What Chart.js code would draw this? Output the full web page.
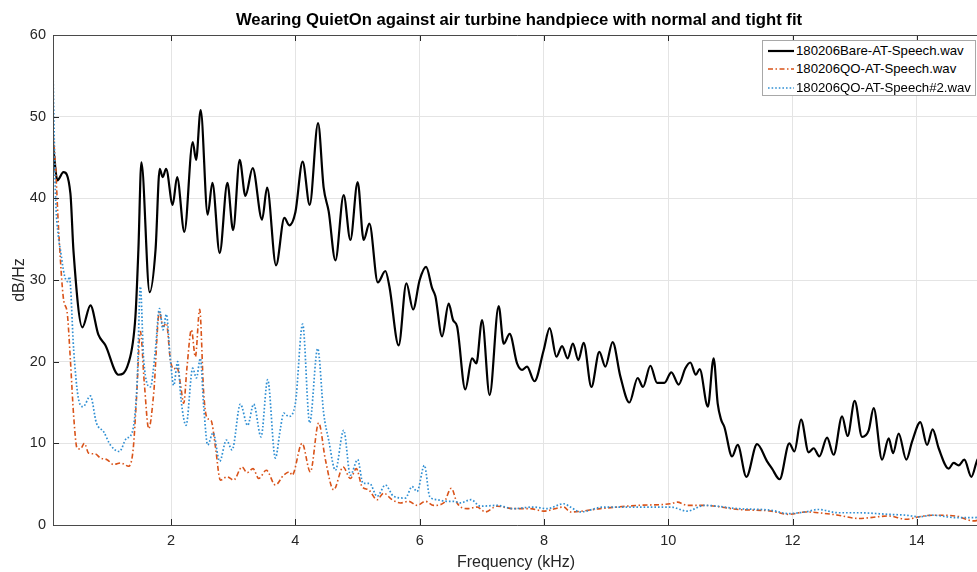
<!DOCTYPE html>
<html><head><meta charset="utf-8">
<script src="https://cdn.jsdelivr.net/npm/chart.js@4.4.1/dist/chart.umd.min.js"></script>
<style>
html,body{margin:0;padding:0;overflow:hidden;background:#fff;width:977px;height:572px;}
#wrap{position:relative;width:980px;height:572px;}
#legend{position:absolute;left:762px;top:40px;width:214px;height:56px;border:1px solid #a8a8a8;background:#fff;font:13.2px 'Liberation Sans',Arial,sans-serif;color:#000;box-sizing:border-box;}
.row{position:absolute;left:0;height:18px;line-height:18px;white-space:nowrap;}
.row svg{position:absolute;left:5px;top:7px;}
.row span{position:absolute;left:33px;top:0;}
</style></head>
<body>
<div id="wrap"><canvas id="c" width="980" height="572"></canvas><div id="legend"></div></div>
<script>
const titleText='Wearing QuietOn against air turbine handpiece with normal and tight fit';
const xLabel='Frequency (kHz)';
const yLabel='dB/Hz';
const xTicks=[2,4,6,8,10,12,14];
const yTicks=[0,10,20,30,40,50,60];
const seriesNames=['180206Bare-AT-Speech.wav','180206QO-AT-Speech.wav','180206QO-AT-Speech#2.wav'];

const bareF=[0.106,0.171,0.268,0.38,0.43,0.573,0.702,0.83,0.943,1.152,
1.313,1.426,1.474,1.522,1.655,1.75,1.817,1.865,1.92,2.026,
2.097,2.214,2.348,2.402,2.476,2.589,2.665,2.782,2.906,2.998,
3.104,3.196,3.313,3.464,3.545,3.689,3.823,3.903,4.0,4.117,
4.23,4.365,4.455,4.536,4.644,4.777,4.885,5.002,5.099,5.191,
5.327,5.448,5.513,5.662,5.786,5.894,6.0,6.103,6.2,6.253,
6.36,6.467,6.537,6.602,6.734,6.843,6.912,7.004,7.126,7.271,
7.352,7.448,7.567,7.648,7.728,7.846,7.995,8.092,8.2,8.291,
8.381,8.465,8.553,8.639,8.763,8.891,8.988,9.105,9.229,9.374,
9.508,9.594,9.712,9.82,9.937,10.05,10.167,10.275,10.355,10.444,
10.505,10.637,10.73,10.795,10.85,10.903,11.027,11.117,11.257,11.429,
11.59,11.67,11.792,11.948,12.029,12.137,12.259,12.34,12.431,12.555,
12.661,12.797,12.886,13.0,13.118,13.225,13.305,13.44,13.547,13.617,
13.707,13.831,13.923,14.056,14.164,14.254,14.351,14.512,14.592,14.672,
14.764,14.877,14.974,15.05];
const bareDb=[46.0,42.2,43.2,40.6,33.5,24.2,26.9,23.3,22.0,18.4,
19.8,25.5,33.7,44.4,28.5,33.7,43.6,42.6,43.6,39.2,
42.6,35.9,46.9,44.7,50.8,38.0,41.9,33.3,41.9,36.1,
44.7,40.3,43.7,37.4,41.3,31.8,37.6,36.7,38.3,44.5,
39.2,49.2,41.3,38.4,32.4,40.4,34.9,42.0,34.9,36.9,
29.7,31.1,29.2,22.0,29.6,26.4,30.0,31.6,29.0,28.0,
23.1,27.1,25.1,24.3,16.6,20.4,19.8,25.1,15.9,26.8,
22.2,23.4,19.8,19.0,19.4,17.6,21.4,24.1,20.6,21.9,
20.4,22.2,20.2,22.3,16.9,21.2,19.4,22.4,18.2,15.0,
18.0,16.9,19.5,17.4,17.4,18.7,17.2,19.2,19.9,18.4,
19.1,14.5,20.4,14.9,12.9,12.0,8.4,9.8,5.9,9.9,
7.8,6.9,5.6,10.0,9.0,12.9,8.9,9.4,8.4,10.7,
8.6,13.3,10.9,15.2,10.8,11.6,14.3,8.0,10.6,8.8,
11.2,8.0,10.2,12.6,9.8,11.7,9.4,6.9,7.6,7.3,
8.0,5.9,8.0,8.5];

const qoF=[0.101,0.138,0.191,0.272,0.327,0.38,0.433,0.488,0.541,0.605,
0.674,0.782,0.862,0.97,1.076,1.184,1.318,1.389,1.442,1.506,
1.57,1.64,1.72,1.812,1.871,1.924,1.989,2.042,2.097,2.15,
2.203,2.257,2.327,2.391,2.46,2.525,2.579,2.644,2.713,2.793,
2.901,3.007,3.142,3.223,3.319,3.409,3.533,3.678,3.812,3.908,
3.947,4.108,4.241,4.375,4.483,4.616,4.768,4.885,4.981,5.073,
5.179,5.315,5.421,5.556,5.69,5.823,5.958,6.092,6.225,6.386,
6.51,6.602,6.763,6.924,7.057,7.245,7.512,7.781,7.995,8.317,
8.425,8.907,9.503,10.034,10.146,10.307,10.581,11.128,11.659,11.932,
12.206,12.415,12.737,13.059,13.553,13.827,14.036,14.246,14.632,14.907,
15.05];
const qoDb=[48.0,44.3,36.1,27.5,26.1,20.2,13.3,9.4,9.3,10.0,
8.8,8.7,8.2,8.0,7.4,7.6,7.2,9.2,15.3,23.7,
17.3,11.8,16.1,26.1,24.3,24.7,20.2,19.1,19.3,17.3,
14.9,19.4,23.9,20.6,26.4,16.1,13.1,12.8,9.6,5.5,
5.9,5.5,7.1,6.4,6.9,5.7,6.7,4.9,6.1,6.5,
6.1,10.0,6.5,12.5,8.0,4.3,7.1,5.7,6.9,4.7,
4.3,3.1,3.9,3.1,2.7,2.9,2.4,2.9,2.4,2.7,
4.5,2.7,2.0,2.2,1.6,2.3,2.0,2.0,1.7,2.2,
1.6,2.0,2.4,2.6,2.8,2.4,2.4,1.9,1.7,1.3,
1.6,1.5,1.2,0.8,1.1,0.7,1.0,1.2,1.1,0.5,
0.7];

const qo2F=[0.101,0.138,0.187,0.219,0.283,0.336,0.364,0.433,0.504,0.584,
0.702,0.798,0.916,1.023,1.168,1.281,1.372,1.453,1.506,1.559,
1.667,1.747,1.812,1.871,1.924,1.989,2.042,2.106,2.161,2.241,
2.348,2.407,2.471,2.525,2.589,2.676,2.782,2.89,2.982,3.115,
3.232,3.329,3.448,3.554,3.678,3.759,3.812,3.892,4.0,4.117,
4.23,4.359,4.455,4.536,4.644,4.777,4.885,5.002,5.089,5.195,
5.315,5.448,5.582,5.77,5.878,5.958,6.076,6.161,6.28,6.441,
6.547,6.655,6.827,6.977,7.245,7.512,7.834,8.05,8.317,8.425,
8.586,8.964,9.503,10.034,10.307,10.581,11.128,11.659,11.932,12.206,
12.415,12.737,13.059,13.553,13.827,14.036,14.246,14.632,14.907,15.05];
const qo2Db=[55.3,41.0,35.3,33.7,30.6,29.8,30.4,21.4,15.7,14.5,
15.8,12.5,11.4,9.8,9.0,10.6,11.3,17.3,29.2,20.2,
16.9,21.4,26.5,23.9,25.8,20.2,17.1,20.0,15.3,12.2,
19.2,18.0,20.4,14.5,9.8,11.3,7.8,10.4,9.2,14.8,
12.2,14.8,10.8,17.8,8.2,11.8,13.7,13.3,14.9,24.6,
12.5,21.6,13.7,10.4,6.7,11.6,6.1,8.0,5.1,5.1,
3.5,4.9,3.5,3.3,4.7,4.1,7.3,3.5,3.1,2.9,
2.9,2.7,3.1,2.3,2.4,2.0,2.2,2.0,2.6,2.2,
1.6,2.2,2.2,2.2,1.7,2.4,2.0,1.8,1.4,1.6,
1.9,1.5,1.5,1.3,1.2,1.0,1.2,0.9,0.9,1.0];

const FONT="'Liberation Sans', Arial, Helvetica, sans-serif";
const colors=['#000000','#D95319','#2f8fd3'];
const widths=[2.2,1.6,1.7];
const dashes=[[],[5,2.5,1.5,2.5],[1.6,2]];

function pts(f,d){return f.map((x,i)=>({x:x,y:d[i]}));}
const series=[pts(bareF,bareDb),pts(qoF,qoDb),pts(qo2F,qo2Db)];

const framePlugin={id:'frame',afterDraw(c){
  const ctx=c.ctx,a=c.chartArea,xs=c.scales.x,ys=c.scales.y;
  ctx.save();
  ctx.strokeStyle='#262626';ctx.lineWidth=1;
  ctx.beginPath();
  xTicks.forEach(v=>{const p=Math.round(xs.getPixelForValue(v))+0.5;
    ctx.moveTo(p,a.bottom);ctx.lineTo(p,a.bottom-6);
    ctx.moveTo(p,a.top);ctx.lineTo(p,a.top+6);});
  yTicks.forEach(v=>{const p=Math.round(ys.getPixelForValue(v))+0.5;
    ctx.moveTo(a.left,p);ctx.lineTo(a.left+6,p);});
  ctx.stroke();
  ctx.strokeStyle='#4a4a4a';
  ctx.beginPath();
  const l=Math.round(a.left)+0.5,b=Math.round(a.bottom)+0.5,t=Math.round(a.top)+0.5;
  ctx.moveTo(a.right+5,t);ctx.lineTo(l,t);ctx.lineTo(l,b);ctx.lineTo(a.right+5,b);
  ctx.stroke();
  ctx.font="bold 16.7px "+FONT;ctx.fillStyle='#000';ctx.textAlign='center';ctx.textBaseline='middle';
  ctx.fillText(titleText,(a.left+a.right)/2+3,20);
  ctx.restore();
}};

new Chart(document.getElementById('c'),{
  type:'line',
  data:{datasets:series.map((s,i)=>({
    label:seriesNames[i],data:s,borderColor:colors[i],borderWidth:widths[i],borderDash:dashes[i],
    pointRadius:0,fill:false,cubicInterpolationMode:'monotone',order:3-i
  }))},
  options:{
    responsive:false,animation:false,devicePixelRatio:1,
    layout:{padding:{top:35,right:1,left:0,bottom:0}},
    plugins:{legend:{display:false},tooltip:{enabled:false},title:{display:false}},
    scales:{
      x:{type:'linear',min:0.1,max:15,
        afterFit(s){s.height=47;},
        afterBuildTicks(s){s.ticks=xTicks.map(v=>({value:v}));},
        grid:{color:'#e4e4e4',lineWidth:1,drawTicks:false},
        border:{display:false},
        ticks:{padding:7,color:'#262626',font:{family:FONT,size:14.5},maxRotation:0,autoSkip:false,callback:v=>String(v)},
        title:{display:true,text:xLabel,color:'#262626',font:{family:FONT,size:16},padding:{top:0,bottom:0}}
      },
      y:{type:'linear',min:0,max:60,
        afterFit(s){s.width=53;},
        afterBuildTicks(s){s.ticks=yTicks.map(v=>({value:v}));},
        grid:{color:'#e4e4e4',lineWidth:1,drawTicks:false},
        border:{display:false},
        ticks:{padding:7,color:'#262626',font:{family:FONT,size:14.5},autoSkip:false,callback:v=>String(v)},
        title:{display:true,text:yLabel,color:'#262626',font:{family:FONT,size:16},padding:{top:10,bottom:0}}
      }
    }
  },
  plugins:[framePlugin]
});

const lg=document.getElementById('legend');
seriesNames.forEach((n,i)=>{
  const r=document.createElement('div');r.className='row';r.style.top=(0.5+i*18.5)+'px';
  const svgNS='http://www.w3.org/2000/svg';
  const sv=document.createElementNS(svgNS,'svg');sv.setAttribute('width','26');sv.setAttribute('height','4');
  const ln=document.createElementNS(svgNS,'line');
  ln.setAttribute('x1','0');ln.setAttribute('y1','2');ln.setAttribute('x2','26');ln.setAttribute('y2','2');
  ln.setAttribute('stroke',colors[i]);ln.setAttribute('stroke-width',String(widths[i]));
  if(dashes[i].length)ln.setAttribute('stroke-dasharray',dashes[i].join(' '));
  sv.appendChild(ln);r.appendChild(sv);
  const sp=document.createElement('span');sp.textContent=n;r.appendChild(sp);
  lg.appendChild(r);
});
</script>
</body></html>
